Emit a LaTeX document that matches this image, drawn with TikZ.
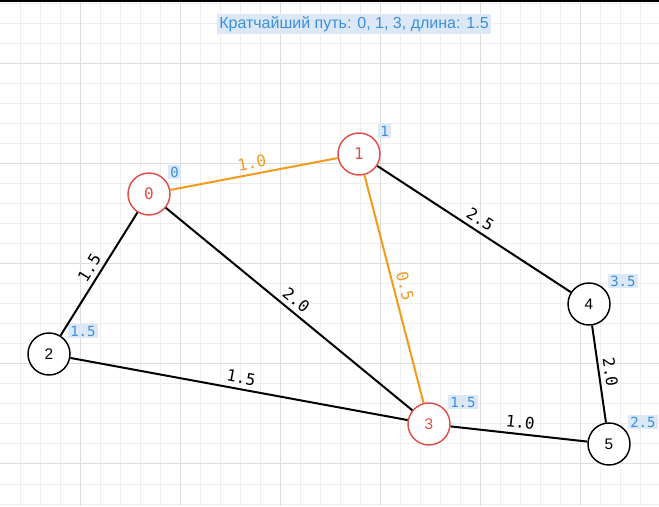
\documentclass[tikz,border=0pt]{standalone}
\usepackage{fontspec}
\setmainfont{Liberation Sans}
\newfontfamily\monof{DejaVu Sans Mono}
\definecolor{nodered}{HTML}{E0504A}
\definecolor{pathorange}{HTML}{F29A1C}
\definecolor{distblue}{HTML}{3A8EE0}
\definecolor{distbg}{HTML}{DCE8F5}
\definecolor{minorgrid}{HTML}{EEEEEE}
\definecolor{majorgrid}{HTML}{DDDDDD}
\tikzset{
  vtx/.style={circle, draw, fill=white, line width=1.1pt, minimum size=31.5pt, inner sep=0pt},
  redvtx/.style={vtx, draw=nodered, text=nodered, font=\monof\fontsize{12}{14}\selectfont},
  blkvtx/.style={vtx, draw=black, font=\fontsize{11.5}{13}\selectfont},
  dist/.style={anchor=west, fill=distbg, text=distblue, font=\monof\fontsize{10.5}{12}\selectfont, inner xsep=1.5pt, inner ysep=1.2pt},
  edgeline/.style={line width=1.5pt, draw=black},
  pathline/.style={line width=1.5pt, draw=pathorange},
  wlab/.style={sloped, above, font=\monof\fontsize{12}{14}\selectfont},
  gridminor/.style={draw=minorgrid, line width=0.75pt},
  gridmajor/.style={draw=majorgrid, line width=0.75pt},
}
\begin{document}
\begin{tikzpicture}[x=0.75pt,y=0.75pt]
\useasboundingbox (0,0) rectangle (659,506);
\fill[white] (0,0) rectangle (659,506);
% grid
\foreach \x in {20,40,...,640} \draw[gridminor] (\x,0) -- (\x,506);
\foreach \y in {2,22,...,502} \draw[gridminor] (0,\y) -- (659,\y);
\foreach \x in {80,180,...,580} \draw[gridmajor] (\x,0) -- (\x,506);
\foreach \y in {42,142,...,442} \draw[gridmajor] (0,\y) -- (659,\y);
\fill[black] (0,504.3) rectangle (659,506);
% title
\node[fill=distbg, text=distblue, font=\fontsize{12}{14}\selectfont, inner xsep=2pt, inner ysep=1.5pt] (title) at (354,482) {Кратчайший путь: 0, 1, 3, длина: 1.5};
% vertices
\node[redvtx] (n0) at (149,312) {0};
\node[redvtx] (n1) at (359,352) {1};
\node[blkvtx] (n2) at (49,152) {2};
\node[redvtx, font=\fontsize{11.5}{13}\selectfont] (n3) at (429,82) {3};
\node[blkvtx] (n4) at (589,202) {4};
\node[blkvtx] (n5) at (609,62) {5};
% distance labels
\node[dist] (d0) at (168,334) {0};
\node[dist] (d1) at (378,375) {1};
\node[dist] (d2) at (68,175) {1.5};
\node[dist] (d3) at (448,104) {1.5};
\node[dist] (d4) at (608,225) {3.5};
\node[dist] (d5) at (628,84) {2.5};
% edges
\draw[pathline] (n0) -- node[wlab, text=pathorange] {1.0} (n1);
\draw[pathline] (n1) -- node[wlab, text=pathorange] {0.5} (n3);
\draw[edgeline] (n1) -- node[wlab] {2.5} (n4);
\draw[edgeline] (n0) -- node[wlab] {2.0} (n3);
\draw[edgeline] (n2) -- node[wlab] {1.5} (n0);
\draw[edgeline] (n2) -- node[wlab] {1.5} (n3);
\draw[edgeline] (n3) -- node[wlab] {1.0} (n5);
\draw[edgeline] (n4) -- node[wlab] {2.0} (n5);
\end{tikzpicture}
\end{document}
